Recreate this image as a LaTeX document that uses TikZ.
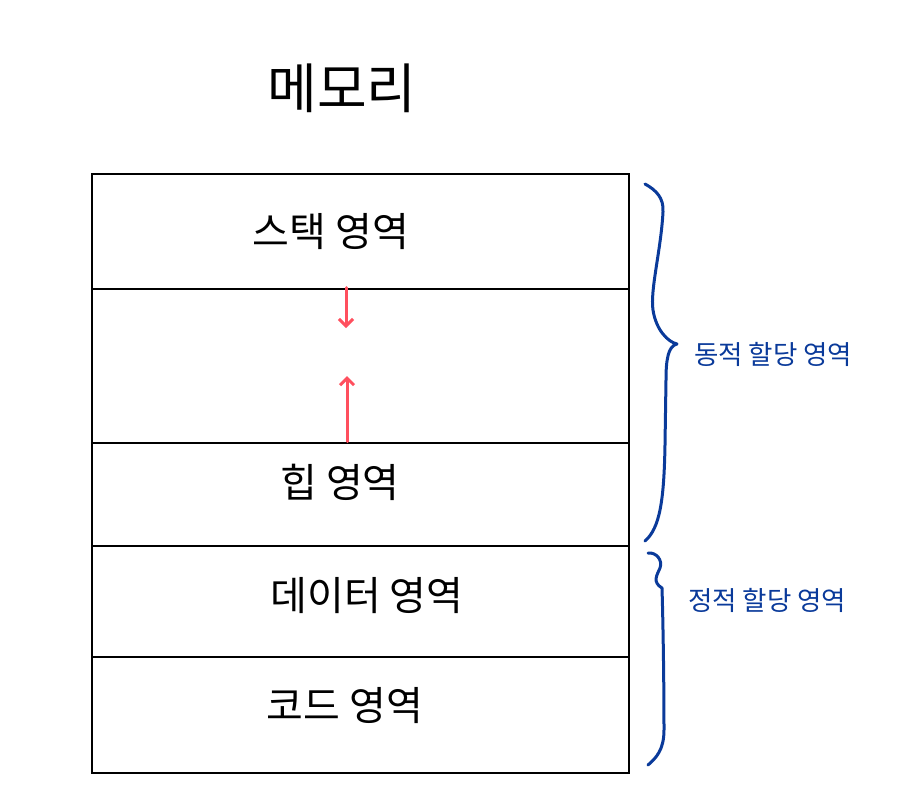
\documentclass[tikz,border=0pt]{standalone}
\usepackage{fontspec}
\setmainfont{Noto Sans CJK KR}
\usetikzlibrary{arrows.meta}
\definecolor{memred}{HTML}{FF4F5E}
\definecolor{memblue}{HTML}{0A3A9A}
\begin{document}
\begin{tikzpicture}[x=1pt,y=-1pt,
  row/.style={draw=black,line width=2.6pt,minimum width=537pt,inner sep=0pt},
  rowtext/.style={font=\fontsize{40}{44}\selectfont,inner sep=0pt},
  redarrow/.style={draw=memred,line width=3pt,line cap=round,-{Straight Barb[length=7pt,width=14pt,line width=3pt]}},
  bracestyle/.style={draw=memblue,line width=3pt,line cap=round,line join=round},
  bluelabel/.style={text=memblue,font=\fontsize{26.5}{30}\selectfont,anchor=west,inner sep=0pt}]
\useasboundingbox (0,0) rectangle (922,812);
\node[font=\fontsize{54}{58}\selectfont,inner sep=0pt] (title) at (342,88) {메모리};
\node[row,minimum height=115pt] (stack) at (360.5,231.5) {};
\node[rowtext] (stacklabel) at (331,232) {스택 영역};
\node[row,minimum height=154pt] (gap) at (360.5,366) {};
\node[row,minimum height=103pt] (heap) at (360.5,494.5) {};
\node[rowtext] (heaplabel) at (340,482) {힙 영역};
\node[row,minimum height=111pt] (data) at (360.5,601.5) {};
\node[rowtext] (datalabel) at (367,596) {데이터 영역};
\node[row,minimum height=116pt] (code) at (360.5,715) {};
\node[rowtext] (codelabel) at (345,706) {코드 영역};
% arrows
\coordinate (downend) at (346,328);
\coordinate (upend) at (347,376);
\draw[redarrow] (gap.north -| downend) -- (downend);
\draw[redarrow] (heap.north -| upend) -- (upend);
% braces
\coordinate (b1top) at (645,184);
\coordinate (b1tip) at (677,344);
\coordinate (b1bot) at (645,541);
\draw[bracestyle] (b1top) .. controls (656,190) and (664,198) .. (663,212)
  .. controls (661,250) and (650,290) .. (653,310)
  .. controls (656,330) and (668,342) .. (b1tip)
  .. controls (668,346) and (666,360) .. (666,380)
  -- (665,445) .. controls (664,500) and (660,528) .. (b1bot);
\coordinate (b2top) at (648,553);
\coordinate (b2tip) at (662,588);
\coordinate (b2bot) at (648,765);
\draw[bracestyle] (b2top) .. controls (656,552) and (663,560) .. (660,568)
  .. controls (657,575) and (652,582) .. (b2tip)
  .. controls (663,620) and (664,680) .. (664,730)
  .. controls (664,750) and (656,758) .. (b2bot);
\node[bluelabel] (dyn) at (694,354) {동적 할당 영역};
\node[bluelabel] (sta) at (688,600) {정적 할당 영역};
\end{tikzpicture}
\end{document}
